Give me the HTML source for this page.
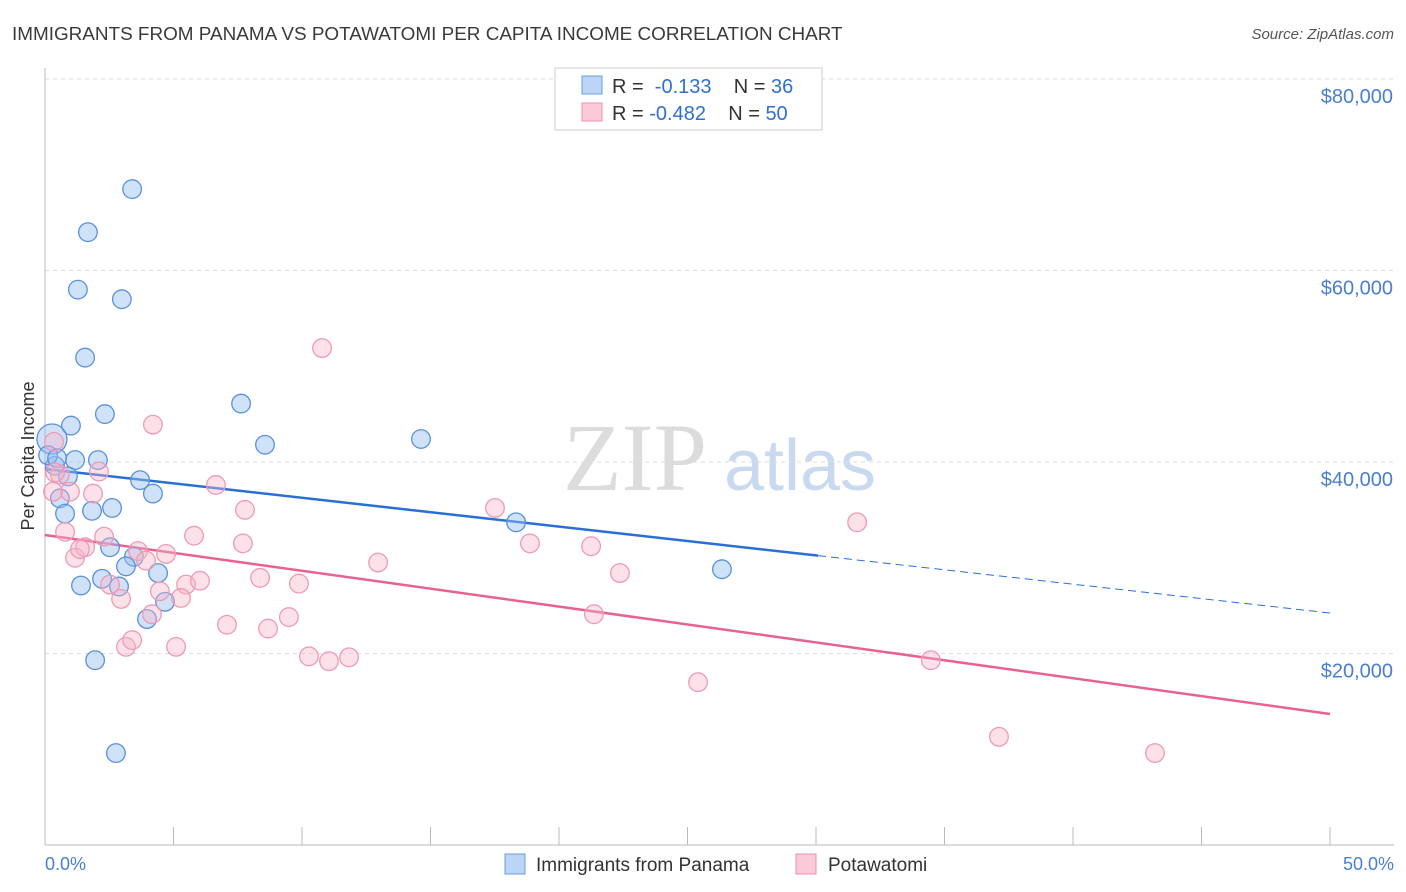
<!DOCTYPE html>
<html><head><meta charset="utf-8"><style>
body{margin:0;background:#fff;font-family:"Liberation Sans",sans-serif}
svg{display:block}
</style></head><body>
<svg id="chart" width="1406" height="892">
<text x="12" y="40" font-size="18.9" fill="#3a3a3a">IMMIGRANTS FROM PANAMA VS POTAWATOMI PER CAPITA INCOME CORRELATION CHART</text>
<text x="1394" y="39" font-size="15" fill="#555" text-anchor="end" font-style="italic">Source: ZipAtlas.com</text>
<text x="635" y="490" font-size="96" fill="#dcdcdc" font-family="Liberation Serif" text-anchor="middle">ZIP</text>
<text x="800" y="490" font-size="72" fill="#c9daf0" text-anchor="middle">atlas</text>
<g id="grid"></g><g id="axes"></g><g id="trends"></g><g id="pts"></g>
<text transform="translate(34,456) rotate(-90)" font-size="18" fill="#333" text-anchor="middle">Per Capita Income</text>
<text x="45" y="870" font-size="18" fill="#4a7fd0">0.0%</text>
<text x="1394" y="870" font-size="18" fill="#4a7fd0" text-anchor="end">50.0%</text>
<g>
<rect x="555" y="68" width="267" height="62" fill="#fff" stroke="#ccc"/>
<rect x="582" y="76" width="20" height="18" fill="#bcd4f5" stroke="#6a9be0"/>
<rect x="582" y="103" width="20" height="18" fill="#fbcad8" stroke="#ee8fae"/>
<text x="612" y="93" font-size="20" fill="#333">R = <tspan fill="#2f6fd0">&#160;-0.133</tspan>&#160;&#160;&#160; N = <tspan fill="#2f6fd0"> 36</tspan></text>
<text x="612" y="120" font-size="20" fill="#333">R = <tspan fill="#2f6fd0">-0.482</tspan>&#160;&#160;&#160; N = <tspan fill="#2f6fd0">50</tspan></text>
</g>
<g>
<rect x="505" y="854" width="20" height="20" fill="#bcd4f5" stroke="#6a9be0"/>
<text x="536" y="871" font-size="19" fill="#333">Immigrants from Panama</text>
<rect x="796" y="854" width="20" height="20" fill="#fbcad8" stroke="#ee8fae"/>
<text x="828" y="871" font-size="19" fill="#333">Potawatomi</text>
</g>
</svg>
<script>
const yTicks=[20000,40000,60000,80000];
const yTickLabels=["$20,000","$40,000","$60,000","$80,000"];
const blueX=[3.39,1.67,1.28,2.99,1.56,7.63,2.33,1.01,8.56,14.63,2.06,1.17,0.39,0.89,3.70,4.20,0.58,1.83,2.61,0.78,18.33,2.53,3.46,4.40,3.15,2.22,1.40,2.88,4.67,3.97,1.95,2.76,26.34,0.27,0.12,0.47];
const blueY=[68.5,64.0,58.0,57.0,50.9,46.1,45.0,43.8,41.8,42.4,40.2,40.2,39.6,38.5,38.1,36.7,36.2,34.9,35.2,34.6,33.7,31.1,30.1,28.4,29.1,27.8,27.1,27.0,25.4,23.6,19.3,9.6,28.8,42.4,40.7,40.4];
const pinkX=[10.78,4.20,0.35,2.10,0.58,0.97,0.31,6.65,1.87,7.78,0.78,2.30,5.80,17.51,18.87,21.25,7.70,31.60,1.17,1.56,3.62,4.71,3.93,1.36,12.96,8.37,22.37,9.88,5.49,6.03,2.53,4.47,2.96,5.29,4.16,21.36,9.49,7.08,8.68,3.15,3.39,5.10,10.27,11.83,11.05,34.47,25.41,37.12,43.19,0.39];
const pinkY=[51.9,43.9,42.1,39.0,38.7,36.9,36.9,37.6,36.7,35.0,32.7,32.2,32.3,35.2,31.5,31.2,31.5,33.7,30.0,31.1,30.7,30.4,29.7,30.9,29.5,27.9,28.4,27.3,27.2,27.6,27.2,26.5,25.7,25.8,24.1,24.1,23.8,23.0,22.6,20.7,21.4,20.7,19.7,19.6,19.2,19.3,17.0,11.3,9.6,38.9];
const blueTrend=[39.27,24.23], blueSolidEnd=30.08;
const pinkTrend=[32.38,13.68];
const NS='http://www.w3.org/2000/svg';
const X=v=>45+v/50*1285, Y=v=>845-v/20*191.5;
function mk(t,a,p){const e=document.createElementNS(NS,t);for(const k in a)e.setAttribute(k,a[k]);p.appendChild(e);return e;}
const grid=document.getElementById('grid'),axes=document.getElementById('axes'),tr=document.getElementById('trends'),pts=document.getElementById('pts');
yTicks.forEach((t,i)=>{const y=Y(t/1000);
const l=mk('line',{x1:45,x2:1394,y1:y,y2:y,stroke:'#ddd','stroke-dasharray':'4,4'},grid);


const tx=mk('text',{x:1393,y:y+24,'font-size':20,fill:'#4a7fd0','text-anchor':'end'},grid);tx.textContent=yTickLabels[i];

});
mk('line',{x1:45,x2:45,y1:68,y2:845,stroke:'#bbb'},axes);
mk('line',{x1:45,x2:1394,y1:845,y2:845,stroke:'#bbb'},axes);
for(let i=0;i<=10;i++){const x=X(i*5);const t=mk('line',{x1:x,x2:x,y1:827,y2:845,stroke:'#bbb'},axes);

}
const trendAt=(tr,x)=>tr[0]+(tr[1]-tr[0])*x/50;
let b1=mk('line',{x1:X(0),y1:Y(trendAt(blueTrend,0)),x2:X(blueSolidEnd),y2:Y(trendAt(blueTrend,blueSolidEnd)),stroke:'#2a6fd6','stroke-width':2.5},tr);


let b2=mk('line',{x1:X(blueSolidEnd),y1:Y(trendAt(blueTrend,blueSolidEnd)),x2:X(50),y2:Y(trendAt(blueTrend,50)),stroke:'#2a6fd6','stroke-width':1,'stroke-dasharray':'8,5'},tr);


let p1=mk('line',{x1:X(0),y1:Y(pinkTrend[0]),x2:X(50),y2:Y(pinkTrend[1]),stroke:'#e8628f','stroke-width':2.5},tr);


blueX.forEach((x,i)=>{const c=mk('circle',{cx:X(x),cy:Y(blueY[i]),r:i==33?15:9.3,fill:'rgba(150,190,240,0.45)',stroke:'#5a90dc','stroke-width':1.3},pts);

});
pinkX.forEach((x,i)=>{const c=mk('circle',{cx:X(x),cy:Y(pinkY[i]),r:9.3,fill:'rgba(248,180,200,0.4)',stroke:'#ee9ab5','stroke-width':1.3},pts);

});
</script>
</body></html>
